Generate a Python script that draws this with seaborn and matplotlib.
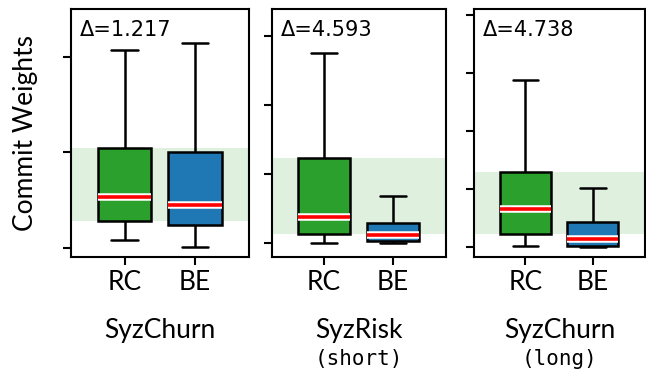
import numpy as np
import pandas as pd
import matplotlib
matplotlib.use("Agg")
import matplotlib.pyplot as plt
import matplotlib.patheffects as pe
import seaborn as sns

sns.set_style("ticks")
plt.rcParams['font.family'] = ['Lato', 'DejaVu Sans']
plt.rcParams.update({'text.color': 'black', 'axes.labelcolor': 'black',
                     'xtick.color': 'black', 'ytick.color': 'black',
                     'axes.edgecolor': 'black'})

# five-number summaries: [low whisker, q1, median, q3, high whisker]
methods = ['RC', 'BE']
panel_names = ['SyzChurn', 'SyzRisk', 'SyzChurn']
panel_notes = ['', '(short)', '(long)']
deltas = ['Δ=1.217', 'Δ=4.593', 'Δ=4.738']

rc_churn = [0.08, 0.28, 0.53, 1.04, 2.07]
be_churn = [0.01, 0.24, 0.45, 1.00, 2.14]
rc_risk_short = [0.01, 0.14, 0.38, 1.23, 2.75]
be_risk_short = [0.00, 0.03, 0.12, 0.30, 0.68]
rc_churn_long = [0.02, 0.23, 0.655, 1.30, 2.88]
be_churn_long = [0.00, 0.03, 0.14, 0.44, 1.03]

panel_data = [(rc_churn, be_churn), (rc_risk_short, be_risk_short),
              (rc_churn_long, be_churn_long)]
panel_ylims = [(-0.1, 2.5), (-0.2, 3.39), (-0.17, 4.11)]
panel_yticks = [[0, 1, 2], [0, 1, 2, 3], [0, 1, 2, 3, 4]]

palette = {'RC': '#2ca02c', 'BE': '#1f77b4'}

fig = plt.figure(figsize=(6.46, 3.77), dpi=100)
rects = [[0.110, 0.318, 0.2755, 0.658],
         [0.421, 0.318, 0.269, 0.658],
         [0.734, 0.318, 0.264, 0.658]]

for i, (rc, be) in enumerate(panel_data):
    ax = fig.add_axes(rects[i])
    df = pd.DataFrame({'method': ['RC'] * len(rc) + ['BE'] * len(be),
                       'weight': rc + be})
    ax.axhspan(rc[1], rc[3], color='#2ca02c', alpha=0.15, lw=0, zorder=0)
    sns.boxplot(data=df, x='method', y='weight', hue='method', order=methods,
                palette=palette, saturation=1, whis=(0, 100), width=0.76,
                linewidth=1.8, linecolor='black', showfliers=False,
                legend=False, ax=ax,
                medianprops=dict(color='red', linewidth=2.6,
                                 path_effects=[pe.Stroke(linewidth=5.4, foreground='white'),
                                               pe.Normal()]))
    ax.set_xlim(-0.76, 1.77)
    ax.set_ylim(*panel_ylims[i])
    ax.set_yticks(panel_yticks[i])
    ax.set_yticklabels([])
    ax.tick_params(axis='both', length=6, width=1.5, labelsize=19)
    for s in ax.spines.values():
        s.set_linewidth(1.5)
        s.set_visible(True)
    ax.set_xlabel(panel_names[i], fontsize=19, labelpad=16)
    ax.set_ylabel('')
    if panel_notes[i]:
        ax.annotate(panel_notes[i], xy=(0.5, 0), xycoords='axes fraction',
                    xytext=(0, -66), textcoords='offset points',
                    ha='center', va='top', fontsize=15,
                    family=['DejaVu Sans Mono'])
    ax.text(0.05, 0.955, deltas[i], transform=ax.transAxes, ha='left', va='top',
            fontsize=15, family=['DejaVu Sans'])
    if i == 0:
        ax.set_ylabel('Commit Weights', fontsize=19, labelpad=14)

fig.savefig('out.png', dpi=100)
